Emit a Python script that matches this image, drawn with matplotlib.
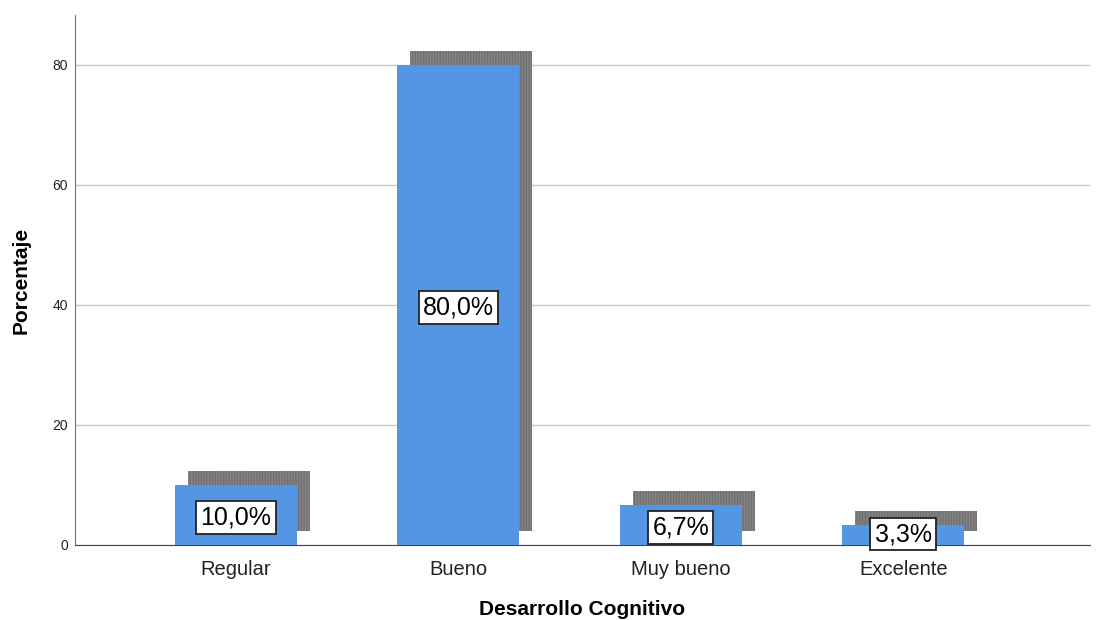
import matplotlib
matplotlib.use("Agg")
import matplotlib.pyplot as plt

categories = ["Regular", "Bueno", "Muy bueno", "Excelente"]
values = [10.0, 80.0, 6.7, 3.3]
labels = ["10,0%", "80,0%", "6,7%", "3,3%"]
yticks = [0, 20, 40, 60, 80]

plt.rcParams['font.family'] = ['Liberation Sans', 'DejaVu Sans']
plt.rcParams['hatch.linewidth'] = 1.0

fig = plt.figure(figsize=(11.02, 6.2), dpi=100)
ax = fig.add_axes([75/1102, 75/620, (1090-75)/1102, (545-15)/620])

x = list(range(len(categories)))
w = 0.549
dx = 13/222.3
dy = 14/6

ax.set_axisbelow(True)
ax.yaxis.grid(True, color='#c8c8c8', linewidth=1)
ax.bar([i + dx for i in x], values, width=w, bottom=dy, facecolor='#858585',
       edgecolor='#707070', hatch='||||||', linewidth=0, zorder=2)
ax.bar(x, values, width=w, color='#5595e5', linewidth=0, zorder=3)

for i, v, t in zip(x, values, labels):
    ypos = max(v/2 - 0.4, 1.8)
    ax.text(i, ypos, t, ha='center', va='center', fontsize=18, zorder=5,
            bbox=dict(boxstyle='square,pad=0.17', facecolor='white', edgecolor='#222222', linewidth=1.3))

ax.set_xlim(-0.724, 3.84)
ax.set_ylim(0, 88.33)
ax.set_xticks(x)
ax.set_xticklabels(categories, fontsize=14.5, color='#222222')
ax.set_yticks(yticks)
ax.set_yticklabels([str(t) for t in yticks], fontsize=10, color='#222222')
ax.tick_params(axis='both', length=0, pad=5)
ax.tick_params(axis='x', pad=11)
for s in ['top', 'right']:
    ax.spines[s].set_visible(False)
ax.spines['left'].set_color('#777777')
ax.spines['bottom'].set_color('#444444')

ax.set_xlabel("Desarrollo Cognitivo", fontsize=15, fontweight='bold', labelpad=15)
ax.set_ylabel("Porcentaje", fontsize=15, fontweight='bold', labelpad=16)

fig.savefig("out.png", dpi=100)
